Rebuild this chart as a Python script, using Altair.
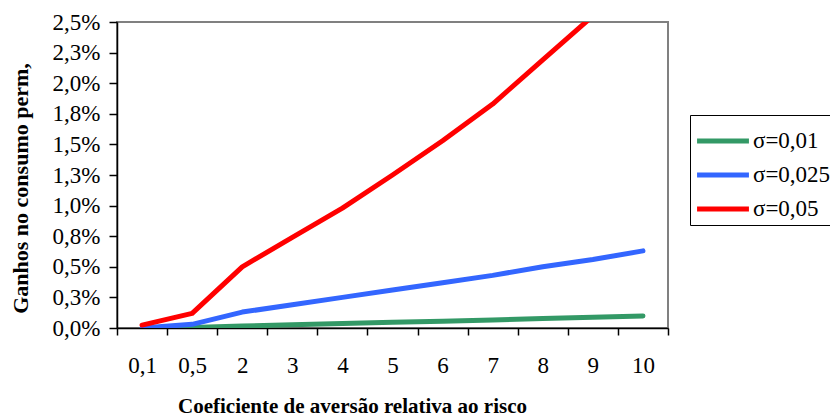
import altair as alt
import pandas as pd

categories = ["0,1", "0,5", "2", "3", "4", "5", "6", "7", "8", "9", "10"]
series_names = ["σ=0,01", "σ=0,025", "σ=0,05"]
green_vals = [0.0, 0.004, 0.016, 0.026, 0.036, 0.046, 0.056, 0.066, 0.077, 0.088, 0.099]
blue_vals = [0.0, 0.03, 0.13, 0.19, 0.25, 0.31, 0.37, 0.43, 0.50, 0.56, 0.63]
red_vals = [0.024, 0.12, 0.50, 0.74, 0.98, 1.25, 1.53, 1.83, 2.19, 2.55, 2.95]
y_ticks = [0.0, 0.25, 0.5, 0.75, 1.0, 1.25, 1.5, 1.75, 2.0, 2.25, 2.5]
colors = ["#339966", "#3366FF", "#FF0000"]

rows = []
for name, vals in zip(series_names, [green_vals, blue_vals, red_vals]):
    for c, v in zip(categories, vals):
        rows.append({"coef": c, "ganho": v, "serie": name})
df = pd.DataFrame(rows)

FONT = "Liberation Serif"

chart = alt.Chart(df).mark_line(
    strokeWidth=5, clip=True, strokeCap="round", strokeJoin="round"
).encode(
    x=alt.X(
        "coef:N",
        sort=categories,
        scale=alt.Scale(type="band", paddingInner=0, paddingOuter=0),
        axis=alt.Axis(
            title="Coeficiente de aversão relativa ao risco",
            titleFont=FONT, titleFontSize=21, titleFontWeight="bold", titleColor="black",
            titleX=235, titleY=78, titleBaseline="middle", titleAlign="center",
            labelFont=FONT, labelFontSize=23, labelColor="black", labelAngle=0,
            labelPadding=19,
            tickBand="extent", tickSize=7, tickColor="black", tickWidth=1.5,
            domainColor="black", domainWidth=1.5, grid=False,
        ),
    ),
    y=alt.Y(
        "ganho:Q",
        scale=alt.Scale(domain=[0, 2.5], nice=False),
        axis=alt.Axis(
            title="Ganhos no consumo perm,",
            titleFont=FONT, titleFontSize=22, titleFontWeight="bold", titleColor="black",
            titleX=-97, titleY=166, titleAngle=270, titleBaseline="middle", titleAlign="center",
            values=y_ticks,
            labelExpr="replace(format(datum.value, '.1f'), '.', ',') + '%'",
            labelFont=FONT, labelFontSize=23, labelColor="black", labelPadding=9,
            tickSize=8, tickColor="black", tickWidth=1.5,
            domainColor="black", domainWidth=1.5, grid=False,
        ),
    ),
    color=alt.Color(
        "serie:N",
        sort=series_names,
        title=None,
        scale=alt.Scale(domain=series_names, range=colors),
        legend=alt.Legend(
            orient="none", legendX=573, legendY=93,
            strokeColor="black", fillColor="white", padding=4,
            symbolType="M-1.33,0H1.33", symbolSize=1521, symbolStrokeWidth=5,
            symbolOffset=7, labelOffset=8,
            labelFont=FONT, labelFontSize=23, labelColor="black", labelLimit=300,
            rowPadding=0,
        ),
    ),
).properties(
    width=551,
    height=306,
    padding={"left": 109, "top": 14, "right": 162, "bottom": 89},
    autosize=alt.AutoSizeParams(type="none"),
).configure_view(stroke="#808080", strokeWidth=2)

chart.save("out.html", embed_options={"renderer": "svg", "actions": False})
